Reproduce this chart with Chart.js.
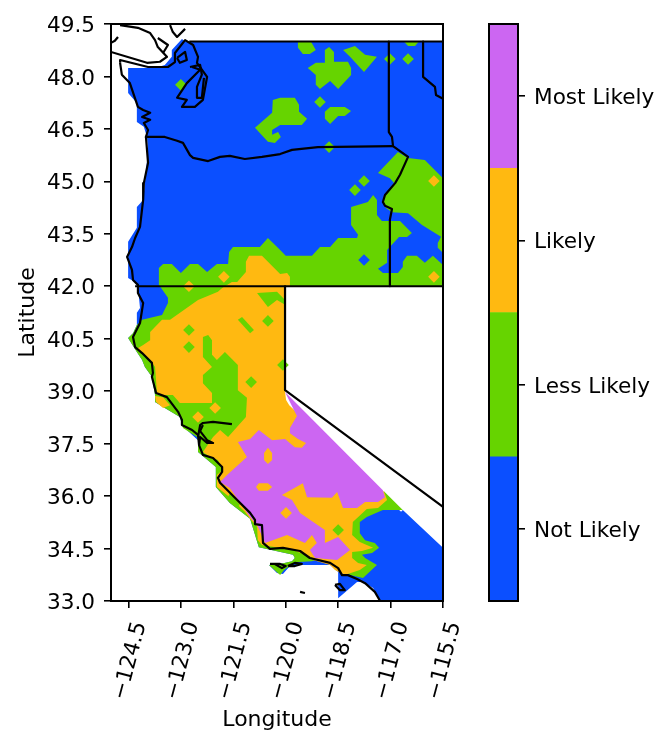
<!DOCTYPE html>
<html>
<head>
<meta charset="utf-8">
<style>
  html, body { margin: 0; padding: 0; background: #fff; }
  canvas { position: absolute; left: 0; top: 0; }
</style>
<script src="https://cdn.jsdelivr.net/npm/chart.js@4"></script>
</head>
<body>
<canvas id="map" width="672" height="747"></canvas>
<canvas id="bar" width="672" height="747"></canvas>
<script>
const X_TICKS = [-124.5, -123, -121.5, -120, -118.5, -117, -115.5];
const Y_TICKS = [33, 34.5, 36, 37.5, 39, 40.5, 42, 43.5, 45, 46.5, 48, 49.5];
const LEVELS = ["Not Likely", "Less Likely", "Likely", "Most Likely"];
const LEVEL_COLORS = ["#0b4fff", "#66d400", "#ffb911", "#cc66f2"];

// filled regions, lon/lat
const NOT_LIKELY_AREA = [[-122.88,49],[-115.5,49],[-115.5,42],[-120.02,42],[-120.5,39],[-116.7,35.55],[-116.65,35.6],[-115.5,34.52],[-115.5,33],[-117.3,33],[-117.5,33.37],[-117.79,33.54],[-117.96,33.54],[-118.5,33.08],[-118.5,33.83],[-118.73,34.03],[-119.59,34.03],[-119.88,34],[-120.08,33.77],[-120.25,33.8],[-120.48,34.03],[-120.16,34.06],[-119.82,34.14],[-119.74,34.23],[-119.79,34.32],[-120.77,34.54],[-121.02,35.35],[-121.6,35.8],[-122,36.26],[-122,36.83],[-122.51,37.26],[-122.51,37.6],[-122.83,37.89],[-122.97,38.03],[-123.03,38.26],[-123.46,38.52],[-123.74,38.69],[-123.74,38.89],[-123.83,39.41],[-124.03,39.69],[-124.11,39.89],[-124.26,40.12],[-124.51,40.52],[-124.37,40.66],[-124.26,40.89],[-124.26,41.24],[-124.17,41.38],[-124.23,41.98],[-124.26,42.09],[-124.51,42.24],[-124.51,43.27],[-124.26,43.67],[-124.26,44.27],[-124.08,44.47],[-124.03,44.95],[-123.94,45.9],[-123.97,46.27],[-124.06,46.56],[-124.26,46.7],[-124.26,47.24],[-124.51,47.53],[-124.51,48.24],[-123.74,48.24],[-123.46,48.33],[-123.26,48.56],[-123.26,48.76],[-122.97,49.07]];

const LESS_MAIN = [[-123.63,42.52],[-123.51,42.64],[-123.26,42.64],[-123,42.38],[-122.74,42.64],[-122.51,42.64],[-122.25,42.41],[-121.97,42.64],[-121.65,42.64],[-121.62,42.98],[-121.51,43.12],[-120.74,43.12],[-120.51,43.38],[-120.16,43.04],[-120,42.87],[-119.25,42.87],[-119.02,43.12],[-118.73,43.12],[-118.5,43.38],[-117.96,43.38],[-117.93,43.47],[-118.13,43.75],[-118.13,44.27],[-117.65,44.41],[-117.5,44.61],[-117.39,44.47],[-117.39,44.04],[-117.25,43.87],[-116.73,43.87],[-116.39,43.52],[-116.53,43.41],[-116.76,43.41],[-117.1,43.04],[-117.1,42.67],[-117.36,42.5],[-117.22,42.38],[-116.79,42.38],[-116.65,42.55],[-116.65,42.7],[-116.53,42.87],[-116.25,42.87],[-116.02,42.67],[-115.79,42.87],[-115.5,42.61],[-115.5,42],[-120.02,42],[-120.3,38.9],[-117.25,36],[-117.19,36.14],[-116.65,35.6],[-117.22,35.6],[-117.68,35.4],[-117.88,35.26],[-117.88,34.94],[-117.73,34.74],[-117.45,34.66],[-117.33,34.52],[-117.53,34.37],[-117.82,34.32],[-117.73,34.23],[-117.39,34.03],[-117.79,33.66],[-118.16,33.74],[-118.5,34],[-119.02,34.23],[-119.25,34.14],[-119.74,34.11],[-120.05,33.89],[-120.16,33.74],[-120.48,34.03],[-120.16,34.06],[-119.82,34.14],[-119.74,34.23],[-119.79,34.32],[-120.77,34.54],[-121.02,35.35],[-121.6,35.8],[-122,36.26],[-122,36.83],[-122.51,37.26],[-122.51,37.6],[-122.54,37.69],[-122.94,37.95],[-123.03,38.26],[-123.46,38.52],[-123.74,38.69],[-123.74,38.89],[-123.83,39.41],[-124.03,39.69],[-124.11,39.89],[-124.26,40.12],[-124.51,40.52],[-124.37,40.66],[-124.26,40.89],[-124.11,41.04],[-123.54,41.18],[-123.37,41.52],[-123.37,41.67],[-123.63,42.04]];
const LESS_EAST = [[-117.36,45.24],[-116.79,45.84],[-116.5,45.67],[-116.02,45.61],[-115.5,45.09],[-115.5,43.38],[-116.1,43.75],[-116.5,44.09],[-116.96,44.12],[-117.13,44.24],[-117.22,44.41],[-117.13,44.67],[-116.9,44.95],[-117.02,45.09]];
const LESS_EDGE = [[-115.5,43.52],[-115.65,43.24],[-115.65,43.1],[-115.5,42.95]];
const LESS_WA1 = [[-119.65,49],[-119.28,49],[-119.14,48.76],[-119.31,48.64],[-119.51,48.64],[-119.65,48.82]];
const LESS_WA2 = [[-118.88,48.76],[-118.76,48.84],[-118.62,48.7],[-118.62,48.42],[-118.22,48.42],[-118.13,48.24],[-118.13,48.04],[-118.5,47.64],[-118.73,47.87],[-119.02,47.64],[-119.14,47.76],[-119.14,48.04],[-119.37,48.24],[-119.14,48.39],[-118.88,48.39]];
const LESS_WA3 = [[-118.36,48.76],[-118.02,48.87],[-117.73,48.62],[-117.39,48.56],[-117.76,48.13],[-118.16,48.56]];
const LESS_WA4 = [[-116.62,49],[-116.19,49],[-116.3,48.87],[-116.5,48.87]];
const LESS_WA5 = [[-120.37,47.33],[-120.16,47.39],[-119.74,47.39],[-119.62,47.19],[-119.62,46.99],[-119.39,46.79],[-119.54,46.61],[-120.16,46.61],[-120.39,46.47],[-120.39,46.33],[-120.22,46.41],[-120.14,46.27],[-120.31,46.1],[-120.51,46.13],[-120.88,46.53],[-120.39,46.96]];
const LESS_WA6 = [[-118.88,46.99],[-118.73,47.13],[-118.31,47.13],[-118.13,47.01],[-118.31,46.87],[-118.5,46.87],[-118.73,46.64],[-118.88,46.79]];

const LIKELY_MAIN = [[-121.14,42.41],[-121.14,42.7],[-121.05,42.87],[-120.68,42.87],[-120.16,42.35],[-119.96,42.38],[-119.88,42.27],[-119.88,42],[-120.02,42],[-120.02,38.98],[-119.99,38.75],[-119.9,38.6],[-117.3,36.1],[-117.19,36.14],[-117.1,35.89],[-117.36,35.66],[-117.68,35.63],[-118.08,35.26],[-118.1,34.89],[-117.88,34.69],[-117.5,34.52],[-117.82,34.43],[-118.1,34.4],[-118.1,34.23],[-117.93,34.09],[-117.68,34.03],[-117.88,33.89],[-118.31,33.74],[-118.59,33.89],[-118.73,34.03],[-119.22,34.17],[-119.22,34.23],[-119.79,34.46],[-120.68,34.6],[-120.8,34.74],[-120.82,35.12],[-121.02,35.35],[-121.17,35.55],[-121.6,35.97],[-121.97,36.26],[-121.97,36.6],[-121.8,36.75],[-121.94,37.03],[-122.17,37.12],[-122.37,37.26],[-122.08,37.69],[-121.88,37.89],[-121.65,37.69],[-121.14,38.26],[-121.11,38.81],[-121.37,39.03],[-121.37,39.75],[-121.74,40.12],[-121.97,39.89],[-122.11,40.04],[-122.11,40.46],[-122.22,40.61],[-122.37,40.55],[-122.37,39.98],[-122.11,39.69],[-122.37,39.46],[-122.37,39.23],[-122.11,38.95],[-122.11,38.66],[-123.03,38.66],[-123.23,38.89],[-123.68,38.89],[-123.74,39.69],[-123.88,39.89],[-124.26,40.21],[-124.08,40.32],[-123.88,40.46],[-123.88,40.69],[-123.54,41.04],[-123.31,41.04],[-122.51,41.61],[-121.94,41.84],[-121.82,41.95],[-121.54,42.12],[-121.39,42.12]];
const LIKELY_STRIP = [[-123.74,38.86],[-123.51,38.83],[-123.31,38.6],[-123.51,38.52],[-123.71,38.69]];
const LESS_HOLE1 = [[-120.82,41.81],[-120.25,41.84],[-120.02,41.61],[-120.02,41.47],[-120.25,41.61],[-120.51,41.41]];
const LESS_HOLE2 = [[-121.37,41.04],[-121.25,41.12],[-120.91,40.75],[-121.02,40.66]];
const LESS_HOLE3 = [[-121.6,36.09],[-121.31,35.75],[-121.39,35.69],[-121.65,35.97]];

const MOST_MAIN = [[-120.02,38.98],[-117.22,36.17],[-117.16,35.97],[-117.36,35.83],[-117.73,35.83],[-117.96,35.66],[-118.36,35.66],[-118.53,36.12],[-118.68,35.95],[-119.39,35.97],[-119.51,36.37],[-120.11,36.03],[-119.82,35.89],[-119.59,35.52],[-118.88,35.03],[-118.88,34.66],[-118.5,34.83],[-118.16,34.46],[-118.53,34.17],[-119.16,34.23],[-119.31,34.46],[-119.11,34.66],[-119.25,34.89],[-119.45,34.66],[-119.96,34.89],[-120.59,34.66],[-120.82,35.17],[-121.02,35.4],[-121.6,36.23],[-121.88,36.4],[-121.68,36.6],[-121.11,37.12],[-121.37,37.55],[-121.02,37.63],[-120.77,37.89],[-120.39,37.6],[-120.02,37.63],[-119.74,37.4],[-119.54,37.38],[-119.42,37.52],[-119.65,37.63],[-119.88,37.8],[-119.88,37.95],[-119.68,38.29],[-119.88,38.69]];
const LIKELY_OVAL = [[-120.51,37.38],[-120.39,37.23],[-120.39,37.03],[-120.51,36.92],[-120.62,37.03],[-120.62,37.23]];
const LIKELY_PILL = [[-120.85,36.26],[-120.77,36.37],[-120.51,36.37],[-120.39,36.26],[-120.51,36.15],[-120.77,36.15]];

// single grid cells that show up as small diamonds
const NOT_LIKELY_CELLS = [[-117.76,42.75]];
const LESS_CELLS = [[-123,47.76],[-117.02,48.5],[-116.5,48.5],[-119.02,47.27],[-118.76,45.98],[-117.76,45.01],[-118.02,44.75],[-120.51,41.01],[-122.77,40.75],[-122.77,40.26],[-120.99,39.26],[-118.5,35.03],[-120.08,39.75]];
const LIKELY_CELLS = [[-115.76,45.01],[-115.76,42.27],[-121.77,42.27],[-122.77,42],[-122.02,38.52],[-122.51,38.26],[-119.99,35.52]];

// coast and state lines
const COAST = [[-124.74,48.39],[-124.69,48.05],[-124.46,47.81],[-124.23,47.13],[-124.08,47.04],[-123.88,46.96],[-124.11,46.84],[-123.88,46.76],[-124.06,46.67],[-123.94,46.47],[-124,46.27],[-123.94,45.53],[-124.06,44.95],[-124.08,44.47],[-124.17,43.7],[-124.31,43.38],[-124.4,43.12],[-124.54,42.84],[-124.4,42.47],[-124.37,42.18],[-124.23,42.04],[-124.23,41.81],[-124.08,41.52],[-124.17,40.95],[-124.37,40.55],[-124.31,40.26],[-124.11,40.09],[-123.83,39.81],[-123.8,39.52],[-123.83,39.41],[-123.71,38.95],[-123.4,38.83],[-123.08,38.41],[-122.97,38.18],[-122.97,38.03],[-122.68,37.89],[-122.51,37.75],[-122.48,37.46],[-122.37,37.18],[-122.08,37.09],[-121.82,36.83],[-121.82,36.69],[-121.94,36.52],[-121.88,36.38],[-121.39,35.89],[-121.02,35.52],[-120.88,35.32],[-120.88,35.2],[-120.68,35.17],[-120.65,34.66],[-120.45,34.49],[-120.08,34.52],[-119.59,34.43],[-119.31,34.23],[-118.73,34.09],[-118.5,33.94],[-118.39,33.74],[-118.22,33.74],[-117.96,33.63],[-117.73,33.51],[-117.45,33.26],[-117.3,33]];
const PUGET = [[-124.74,48.39],[-124.74,48.47],[-123.94,48.27],[-123.37,48.27],[-123.17,48.41],[-123.17,48.67],[-122.88,49.04],[-122.65,48.9],[-122.51,48.56],[-122.54,48.39],[-122.25,47.99],[-122.37,47.33],[-122.6,47.13],[-122.97,47.13],[-122.83,47.33],[-123.11,47.39],[-122.83,47.81],[-122.45,48.19],[-122.68,48.27]];
const WHIDBEY = [[-122.74,48.27],[-122.45,48.33],[-122.4,48.05],[-122.54,47.7],[-122.54,47.39],[-122.4,47.39],[-122.34,47.96]];
const SAN_JUAN = [[-123.11,48.53],[-122.88,48.7],[-122.83,48.47],[-123.03,48.39],[-123.11,48.53]];
const VANCOUVER = [[-125,48.7],[-123.97,48.39],[-123.6,48.42],[-123.4,48.56],[-123.66,48.84],[-123.74,49.04],[-123.88,49.24],[-124.23,49.39],[-124.74,49.47]];
const VANCOUVER_NW = [[-124.8,49.13],[-124.89,49.02],[-125,48.96]];
const BC_COAST = [[-123.31,49.47],[-123.23,49.27],[-123.11,49.13],[-122.88,49.36]];
const BC_INLET = [[-123.66,49.1],[-123.37,48.9],[-123.51,48.67]];
const BAY_NORTH = [[-122.51,37.69],[-122.45,38.03],[-122.37,38.09],[-122.08,38.12],[-121.54,38.06]];
const BAY_SOUTH = [[-122.37,38.03],[-122.45,37.86],[-122.25,37.6],[-122.08,37.52],[-122.25,37.52],[-122.45,37.69],[-122.48,37.46]];
const ISLAND_A = [[-120.45,34.06],[-120.31,34.06],[-120.11,33.94],[-120,34],[-120.16,34.06],[-120.45,34.06]];
const ISLAND_B = [[-119.94,34],[-119.74,34.09],[-119.54,34.06],[-119.74,34],[-119.94,34]];
const ISLAND_C = [[-118.59,33.46],[-118.45,33.49],[-118.31,33.31],[-118.45,33.31],[-118.59,33.46]];
const ISLAND_D = [[-119.59,33.26],[-119.45,33.23]];
const WA_OR = [[-124.03,46.27],[-123.74,46.27],[-123.46,46.27],[-123.11,46.16],[-122.94,46.1],[-122.74,45.75],[-122.65,45.67],[-122.22,45.58],[-121.88,45.7],[-121.6,45.73],[-121.17,45.64],[-120.68,45.7],[-120.16,45.78],[-119.82,45.9],[-119.08,45.98],[-116.93,46.01]];
const IDAHO = [[-117.05,49],[-117.05,46.41],[-116.96,46.27],[-116.93,46.01],[-116.5,45.7],[-116.73,45.19],[-116.87,44.95],[-117.16,44.61],[-117.22,44.41],[-117.16,44.3],[-116.96,44.21],[-117.02,43.9],[-117.02,42]];
const MONTANA = [[-116.07,49],[-116.07,47.99],[-115.73,47.7],[-115.7,47.47],[-115.5,47.36]];
const LAT_42 = [[-124.31,42],[-115.5,42]];
const LAT_49 = [[-122.76,49],[-115.5,49]];
const NEVADA = [[-120.02,42],[-120.02,39.03],[-115.5,35.69]];

const REGIONS = [
  [NOT_LIKELY_AREA, 0],
  [LESS_MAIN, 1], [LESS_EAST, 1], [LESS_EDGE, 1], [LESS_WA1, 1], [LESS_WA2, 1],
  [LESS_WA3, 1], [LESS_WA4, 1], [LESS_WA5, 1], [LESS_WA6, 1],
  [LIKELY_MAIN, 2], [LIKELY_STRIP, 2],
  [LESS_HOLE1, 1], [LESS_HOLE2, 1], [LESS_HOLE3, 1],
  [MOST_MAIN, 3],
  [LIKELY_OVAL, 2], [LIKELY_PILL, 2],
];
const OUTLINES = [COAST, PUGET, WHIDBEY, SAN_JUAN, VANCOUVER, VANCOUVER_NW, BC_COAST, BC_INLET,
  BAY_NORTH, BAY_SOUTH, ISLAND_A, ISLAND_B, ISLAND_C, ISLAND_D, WA_OR, IDAHO, MONTANA, LAT_42, LAT_49, NEVADA];

const FONT = { family: "'DejaVu Sans'", size: 21.6 };
const TITLE_FONT = { family: "'DejaVu Sans'", size: 22 };
const toPoints = (list) => list.map(([x, y]) => ({ x, y }));

// fills the datasets flagged as polygon, under everything else
const polygonFill = {
  id: "polygonFill",
  beforeDatasetsDraw(chart) {
    const { ctx, chartArea: a } = chart;
    ctx.save();
    ctx.beginPath();
    ctx.rect(a.left, a.top, a.right - a.left, a.bottom - a.top);
    ctx.clip();
    chart.data.datasets.forEach((ds, i) => {
      if (!ds.polygon) return;
      const pts = chart.getDatasetMeta(i).data;
      ctx.beginPath();
      pts.forEach((p, k) => (k ? ctx.lineTo(p.x, p.y) : ctx.moveTo(p.x, p.y)));
      ctx.closePath();
      ctx.fillStyle = ds.polygon;
      ctx.fill();
    });
    ctx.restore();
  },
};

const frame = {
  id: "frame",
  afterDraw(chart) {
    const { ctx, chartArea: a } = chart;
    ctx.save();
    ctx.strokeStyle = "#000";
    ctx.lineWidth = 2;
    ctx.strokeRect(a.left, a.top, a.right - a.left, a.bottom - a.top);
    ctx.restore();
  },
};

const cellSet = (list, level) => ({
  data: toPoints(list),
  showLine: false,
  pointStyle: "rectRot",
  pointRadius: 5.8,
  pointBackgroundColor: LEVEL_COLORS[level],
  pointBorderWidth: 0,
});

new Chart(document.getElementById("map"), {
  type: "scatter",
  data: {
    datasets: [
      ...OUTLINES.map((list) => ({
        data: toPoints(list),
        showLine: true,
        borderColor: "#000",
        borderWidth: 2.2,
        borderJoinStyle: "round",
        pointRadius: 0,
        tension: 0,
      })),
      cellSet(NOT_LIKELY_CELLS, 0),
      cellSet(LESS_CELLS, 1),
      cellSet(LIKELY_CELLS, 2),
      ...REGIONS.map(([list, level]) => ({
        data: toPoints(list),
        polygon: LEVEL_COLORS[level],
        showLine: false,
        pointRadius: 0,
      })),
    ],
  },
  options: {
    responsive: false,
    animation: false,
    layout: { padding: { top: 24, right: 229, left: 0, bottom: 0 } },
    plugins: { legend: { display: false }, tooltip: { enabled: false } },
    scales: {
      x: {
        type: "linear",
        min: -125,
        max: -115.5,
        afterBuildTicks: (s) => { s.ticks = X_TICKS.map((value) => ({ value })); },
        afterFit: (s) => { s.height = 146; },
        grid: { drawOnChartArea: false, color: "#000", lineWidth: 1.6, tickLength: 7 },
        border: { color: "#000", width: 2 },
        ticks: {
          color: "#000",
          font: FONT,
          autoSkip: false,
          minRotation: 75,
          maxRotation: 75,
          labelOffset: 12,
          padding: 11,
          callback: (v) => v.toFixed(1).replace("-", "\u2212"),
        },
        title: { display: true, text: "Longitude", color: "#000", font: TITLE_FONT, padding: { top: 0, bottom: 14 } },
      },
      y: {
        type: "linear",
        min: 33,
        max: 49.5,
        afterBuildTicks: (s) => { s.ticks = Y_TICKS.map((value) => ({ value })); },
        afterFit: (s) => { s.width = 111; },
        grid: { drawOnChartArea: false, color: "#000", lineWidth: 1.6, tickLength: 7 },
        border: { color: "#000", width: 2 },
        ticks: {
          color: "#000",
          font: FONT,
          autoSkip: false,
          padding: 9,
          labelOffset: 2.5,
          callback: (v) => v.toFixed(1),
        },
        title: { display: true, text: "Latitude", color: "#000", font: TITLE_FONT, padding: { top: 15, bottom: 0 } },
      },
    },
  },
  plugins: [polygonFill, frame],
});

new Chart(document.getElementById("bar"), {
  type: "bar",
  data: {
    labels: [""],
    datasets: LEVELS.map((name, i) => ({
      label: name,
      data: [1],
      backgroundColor: LEVEL_COLORS[i],
      barPercentage: 1,
      categoryPercentage: 1,
      borderWidth: 0,
    })),
  },
  options: {
    responsive: false,
    animation: false,
    layout: { padding: { top: 24, left: 489, right: 0, bottom: 146 } },
    plugins: { legend: { display: false }, tooltip: { enabled: false } },
    scales: {
      x: { stacked: true, display: false },
      y: {
        stacked: true,
        position: "right",
        min: 0,
        max: 4,
        afterBuildTicks: (s) => { s.ticks = LEVELS.map((_, i) => ({ value: i + 0.5 })); },
        afterFit: (s) => { s.width = 154; },
        grid: { drawOnChartArea: false, color: "#000", lineWidth: 1.6, tickLength: 7 },
        border: { color: "#000", width: 2 },
        ticks: {
          color: "#000",
          font: FONT,
          autoSkip: false,
          padding: 9,
          labelOffset: 2.5,
          callback: (v) => LEVELS[Math.floor(v)],
        },
      },
    },
  },
  plugins: [frame],
});
</script>
</body>
</html>
